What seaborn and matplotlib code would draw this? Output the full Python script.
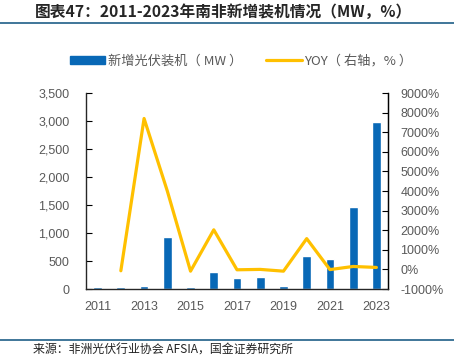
import matplotlib
matplotlib.use("Agg")
import matplotlib.pyplot as plt
import matplotlib.lines as mlines
import matplotlib.patches as mpatches
from matplotlib.ticker import FuncFormatter, MultipleLocator
import numpy as np
import pandas as pd
import seaborn as sns

# data
years = [2011, 2012, 2013, 2014, 2015, 2016, 2017, 2018, 2019, 2020, 2021, 2022, 2023]
new_mw = [30, 30, 45, 930, 30, 308, 195, 218, 50, 587, 540, 1464, 2982]
yoy_years = [2012, 2013, 2014, 2015, 2016, 2017, 2018, 2019, 2020, 2021, 2022, 2023]
yoy_pct = [-70, 7700, 4000, -90, 2020, -20, 0, -90, 1570, -10, 150, 100]
tick_years = [2011, 2013, 2015, 2017, 2019, 2021, 2023]

bar_df = pd.DataFrame({"year": years, "mw": new_mw})
line_df = pd.DataFrame({"year": yoy_years, "yoy": yoy_pct})

bar_color = "#0868b6"
line_color = "#ffc000"
text_gray = "#595959"
rule_color = "#1f5f87"
cjk = ["Noto Sans CJK SC", "DejaVu Sans"]

sns.set_style("white")
plt.rcParams["font.family"] = ["Liberation Sans", "Noto Sans CJK SC"]

fig = plt.figure(figsize=(4.54, 3.56), dpi=100)
ax = fig.add_axes([86 / 454, 1 - 289 / 356, 302 / 454, 196 / 356])

sns.barplot(data=bar_df, x="year", y="mw", native_scale=True, width=0.38,
            color=bar_color, saturation=1, ax=ax)
ax.set_xlim(2010.5, 2023.5)
ax.set_ylim(0, 3500)
ax.yaxis.set_major_locator(MultipleLocator(500))
ax.yaxis.set_major_formatter(FuncFormatter(lambda v, p: f"{int(v):,}"))
ax.set_xticks(tick_years)
ax.set_xticklabels([str(y) for y in tick_years])
ax.set_xticks(np.arange(2010.5, 2024, 1), minor=True)
ax.tick_params(axis="x", which="major", length=0, pad=9, labelsize=9, labelcolor=text_gray)
ax.tick_params(axis="x", which="minor", direction="in", length=4, width=0.8, color="black")
ax.tick_params(axis="y", direction="in", length=4, width=0.8, color="black",
               labelsize=9, labelcolor=text_gray, pad=12, left=True)
ax.set_xlabel("")
ax.set_ylabel("")
ax.spines["top"].set_visible(False)
for s in ["left", "bottom", "right"]:
    ax.spines[s].set_color("black")
    ax.spines[s].set_linewidth(0.9)

ax2 = ax.twinx()
sns.lineplot(data=line_df, x="year", y="yoy", color=line_color, linewidth=2.3, ax=ax2)
ax2.set_ylim(-1000, 9000)
ax2.yaxis.set_major_locator(MultipleLocator(1000))
ax2.yaxis.set_major_formatter(FuncFormatter(lambda v, p: f"{int(v)}%"))
ax2.tick_params(axis="y", direction="in", length=4, width=0.8, color="black",
                labelsize=9, labelcolor=text_gray, pad=9, right=True)
ax2.set_ylabel("")
ax2.set_xlim(2010.5, 2023.5)
ax2.spines["top"].set_visible(False)
ax2.spines["right"].set_color("black")
ax2.spines["right"].set_linewidth(0.9)

handles = [mpatches.Patch(color=bar_color, label="新增光伏装机（ MW ）"),
           mlines.Line2D([], [], color=line_color, linewidth=2.3, label="YOY（ 右轴，% ）")]
fig.legend(handles=handles, loc="center", bbox_to_anchor=(241 / 454, 1 - 61 / 356), ncol=2,
           frameon=False, prop={"family": cjk, "size": 9.5}, labelcolor=text_gray,
           handlelength=2.7, handleheight=0.6, columnspacing=1.8, handletextpad=0.2)

fig.text(35 / 454, 1 - 12 / 356, "图表47：2011-2023年南非新增装机情况（MW，%）",
         fontsize=11.3, fontweight="bold", style="italic", va="center", ha="left",
         family=cjk)
fig.text(33 / 454, 1 - 350 / 356, "来源：非洲光伏行业协会 AFSIA，国金证券研究所",
         fontsize=8.6, va="center", ha="left", color="#222222", family=cjk)
fig.add_artist(mlines.Line2D([0, 1], [1 - 23 / 356] * 2, color=rule_color, linewidth=1.2,
                             transform=fig.transFigure))
fig.add_artist(mlines.Line2D([0, 1], [1 - 340 / 356] * 2, color=rule_color, linewidth=1.2,
                             transform=fig.transFigure))

fig.savefig("out.png", dpi=100)
